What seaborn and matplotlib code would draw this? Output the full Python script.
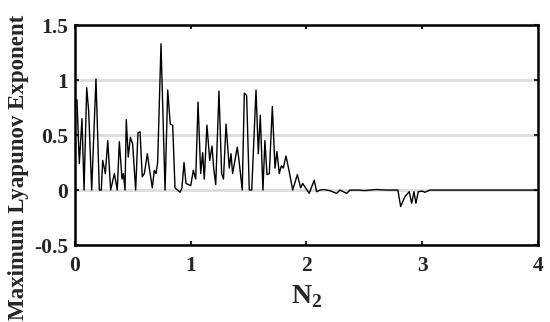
import numpy as np
import pandas as pd
import matplotlib
matplotlib.use('Agg')
import matplotlib.pyplot as plt
import seaborn as sns

# Values
n2 = [0.000, 0.017, 0.037, 0.060, 0.078, 0.101, 0.118, 0.144, 0.181, 0.210,
      0.227, 0.239, 0.262, 0.283, 0.308, 0.340, 0.365, 0.383, 0.406, 0.418,
      0.432, 0.443, 0.460, 0.478, 0.498, 0.524, 0.544, 0.562, 0.581, 0.599,
      0.625, 0.642, 0.668, 0.685, 0.700, 0.714, 0.743, 0.778, 0.801, 0.823,
      0.844, 0.864, 0.886, 0.907, 0.924, 0.942, 0.959, 0.981, 1.000, 1.022,
      1.043, 1.063, 1.086, 1.103, 1.117, 1.140, 1.164, 1.184, 1.198, 1.216,
      1.244, 1.267, 1.283, 1.305, 1.333, 1.348, 1.362, 1.402, 1.417, 1.445,
      1.463, 1.483, 1.506, 1.527, 1.564, 1.584, 1.601, 1.624, 1.641, 1.659,
      1.679, 1.705, 1.728, 1.745, 1.765, 1.783, 1.800, 1.823, 1.849, 1.881,
      1.921, 1.950, 1.967, 2.024, 2.067, 2.088, 2.117, 2.150, 2.200, 2.261,
      2.289, 2.347, 2.376, 2.450, 2.500, 2.600, 2.700, 2.790, 2.814, 2.851,
      2.888, 2.909, 2.929, 2.946, 2.966, 3.000, 3.024, 3.067, 3.200, 3.500,
      4.000]
mle = [0.80, 0.82, 0.24, 0.65, 0.00, 0.93, 0.72, 0.00, 1.01, 0.00,
       0.00, 0.27, 0.15, 0.45, 0.00, 0.15, 0.00, 0.44, 0.10, 0.15,
       0.00, 0.64, 0.30, 0.48, 0.42, 0.00, 0.52, 0.53, 0.12, 0.15,
       0.33, 0.20, 0.02, 0.18, 0.15, 0.25, 1.33, 0.00, 0.91, 0.60,
       0.59, 0.02, 0.00, -0.02, 0.02, 0.25, 0.06, 0.05, 0.04, 0.18,
       0.10, 0.80, 0.15, 0.34, 0.10, 0.59, 0.27, 0.40, 0.20, 0.05,
       0.90, 0.15, 0.10, 0.60, 0.20, 0.33, 0.15, 0.39, 0.27, 0.00,
       0.88, 0.86, 0.00, 0.00, 0.91, 0.33, 0.68, 0.00, 0.45, 0.14,
       0.15, 0.76, 0.20, 0.35, 0.15, 0.22, 0.20, 0.31, 0.18, 0.00,
       0.14, 0.02, 0.06, -0.03, 0.09, -0.015, 0.00, 0.005, -0.005, -0.03,
       0.00, -0.03, 0.00, 0.00, -0.005, 0.005, 0.00, 0.00, -0.15, -0.06,
       -0.015, -0.12, -0.015, -0.12, -0.015, -0.01, -0.02, 0.00, 0.00, 0.00,
       0.00]

y_ticks = [-0.5, 0, 0.5, 1, 1.5]
y_tick_labels = ['-0.5', '0', '0.5', '1', '1.5']
x_ticks = [0, 1, 2, 3, 4]

df = pd.DataFrame({'N2': n2, 'MLE': mle})

sns.set_style('ticks')
plt.rcParams['font.family'] = ['Liberation Serif', 'DejaVu Serif']
plt.rcParams['font.weight'] = 'bold'
plt.rcParams['mathtext.fontset'] = 'custom'
plt.rcParams['mathtext.rm'] = 'Liberation Serif:bold'
plt.rcParams['mathtext.bf'] = 'Liberation Serif:bold'

fig = plt.figure(figsize=(5.5, 3.22), dpi=100)
ax = fig.add_axes([0.1364, 0.239, 0.8416, 0.683])

# light grid lines
for yv in y_ticks:
    ax.axhline(yv, color='#dcdcdc', lw=2, zorder=0)

sns.lineplot(data=df, x='N2', y='MLE', ax=ax, color='black', lw=1.0,
             estimator=None, sort=False)

ax.set_xlim(0, 4)
ax.set_ylim(-0.5, 1.5)
ax.set_xticks(x_ticks)
ax.set_yticks(y_ticks)
ax.set_yticklabels(y_tick_labels)
ax.tick_params(direction='in', length=3, width=1.5, top=True, right=True,
               labelsize=15.5)
ax.tick_params(axis='x', pad=8)
ax.tick_params(axis='y', pad=5)
for s in ax.spines.values():
    s.set_linewidth(1.8)
    s.set_color('black')

ax.set_xlabel(r'N$_\mathbf{2}$', fontsize=20, fontweight='bold', labelpad=5)
ax.set_ylabel('Maximum Lyapunov Exponent', fontsize=16.5, fontweight='bold')
ax.yaxis.set_label_coords(-0.1, 0.355)

fig.savefig('out.png', dpi=100)
